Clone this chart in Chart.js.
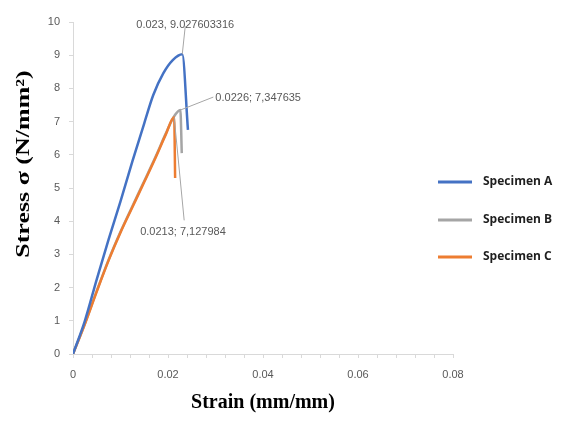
<!DOCTYPE html>
<html>
<head>
<meta charset="utf-8">
<script src="https://cdn.jsdelivr.net/npm/chart.js@4.4.1/dist/chart.umd.min.js"></script>
<style>
  html, body { margin: 0; padding: 0; background: #ffffff; }
  #wrap { width: 563px; height: 421px; position: relative; }
</style>
</head>
<body>
<div id="wrap"><canvas id="c"></canvas></div>
<script>
// ---- data ----
const seriesNames = ['Specimen A', 'Specimen B', 'Specimen C'];
const strainA = [0, 0.0025, 0.005, 0.0075, 0.01, 0.0125, 0.015, 0.0169, 0.019, 0.021, 0.023, 0.0242];
const stressA = [0, 1.0, 2.25, 3.45, 4.6, 5.8, 6.95, 7.8, 8.45, 8.85, 9.027603316, 6.75];
const strainB = [0, 0.0025, 0.005, 0.0075, 0.01, 0.0125, 0.015, 0.0175, 0.0195, 0.0213, 0.0226, 0.0229];
const stressB = [0, 0.91, 1.9, 2.84, 3.68, 4.45, 5.21, 5.98, 6.63, 7.16, 7.347635, 6.05];
const strainC = [0, 0.0025, 0.005, 0.0075, 0.01, 0.0125, 0.015, 0.0175, 0.0195, 0.0213, 0.0215];
const stressC = [0, 0.9, 1.88, 2.82, 3.66, 4.42, 5.18, 5.95, 6.6, 7.127984, 5.3];
const peakStrain = [0.023, 0.0226, 0.0213];
const peakStress = [9.027603316, 7.347635, 7.127984];
const peakLabels = ['0.023, 9.027603316', '0.0226; 7,347635', '0.0213; 7,127984'];
const xTickLabels = ['0', '0.02', '0.04', '0.06', '0.08'];
const yTickLabels = ['0', '1', '2', '3', '4', '5', '6', '7', '8', '9', '10'];
const xTitle = 'Strain (mm/mm)';
const yTitle = 'Stress \u03c3 (N/mm\u00b2)';

// ---- styling ----
const colors = ['#4472C4', '#A5A5A5', '#ED7D31'];
const axisColor = '#d9d9d9';
const tickColor = '#595959';

function pts(xs, ys) { return xs.map((x, i) => ({ x: x, y: ys[i] })); }

const annotationStyle = [
  { dx: 3, dy: -28, align: 'center', lxOff: 3, ly: -29 },
  { dx: 33, dy: -13, align: 'left', lxOff: 35, ly: -12 },
  { dx: 10, dy: 103, align: 'left', lxOff: -34, ly: 115 }
];

const annotationPlugin = {
  id: 'peakLabels',
  afterDatasetsDraw(chart) {
    const { ctx, scales: { x, y } } = chart;
    ctx.save();
    ctx.font = '11px "Liberation Sans", Arial, sans-serif';
    ctx.textBaseline = 'middle';
    peakLabels.forEach((txt, i) => {
      const st = annotationStyle[i];
      const px = x.getPixelForValue(peakStrain[i]);
      const py = y.getPixelForValue(peakStress[i]);
      ctx.strokeStyle = '#a6a6a6';
      ctx.lineWidth = 1;
      ctx.beginPath();
      ctx.moveTo(px, py);
      ctx.lineTo(px + st.dx, py + st.dy);
      ctx.stroke();
      ctx.fillStyle = tickColor;
      ctx.textAlign = st.align;
      ctx.fillText(txt, px + st.lxOff, py + st.ly);
    });
    ctx.restore();
  }
};

const legendPlugin = {
  id: 'sideLegend',
  afterDraw(chart) {
    const { ctx } = chart;
    const ys = [182, 220, 257];
    ctx.save();
    chart.data.datasets.forEach((ds, i) => {
      ctx.strokeStyle = ds.borderColor;
      ctx.lineWidth = 3;
      ctx.beginPath();
      ctx.moveTo(438, ys[i]);
      ctx.lineTo(472, ys[i]);
      ctx.stroke();
      ctx.fillStyle = '#1f1f1f';
      ctx.font = 'bold 12px "Open Sans", "Liberation Sans", sans-serif';
      ctx.textAlign = 'left';
      ctx.textBaseline = 'middle';
      ctx.fillText(ds.label, 483, ys[i]);
    });
    ctx.restore();
  }
};

const yTitlePlugin = {
  id: 'yTitle',
  afterDraw(chart) {
    const { ctx } = chart;
    ctx.save();
    ctx.translate(24, 164);
    ctx.rotate(-Math.PI / 2);
    ctx.scale(1, 0.75);
    ctx.font = 'bold 26px "Liberation Serif", "Times New Roman", serif';
    ctx.fillStyle = '#000000';
    ctx.textAlign = 'center';
    ctx.textBaseline = 'middle';
    ctx.fillText(yTitle, 0, 0);
    ctx.restore();
  }
};

new Chart(document.getElementById('c'), {
  type: 'scatter',
  data: {
    datasets: [
      { label: seriesNames[0], data: pts(strainA, stressA), borderColor: colors[0], backgroundColor: colors[0], showLine: true, pointRadius: 0, borderWidth: 2.5, order: 0 },
      { label: seriesNames[1], data: pts(strainB, stressB), borderColor: colors[1], backgroundColor: colors[1], showLine: true, pointRadius: 0, borderWidth: 2.5, order: 2 },
      { label: seriesNames[2], data: pts(strainC, stressC), borderColor: colors[2], backgroundColor: colors[2], showLine: true, pointRadius: 0, borderWidth: 2.5, order: 1 }
    ]
  },
  options: {
    responsive: true,
    maintainAspectRatio: false,
    animation: false,
    devicePixelRatio: 1,
    layout: { padding: { left: 0, right: 110, top: 22, bottom: 0 } },
    plugins: { legend: { display: false }, tooltip: { enabled: false } },
    elements: { line: { cubicInterpolationMode: 'monotone' } },
    scales: {
      x: {
        type: 'linear',
        min: 0, max: 0.08,
        afterFit(s) { s.height = 67; },
        afterBuildTicks(s) {
          const t = [];
          for (let i = 0; i <= 20; i++) t.push({ value: i * 0.004 });
          s.ticks = t;
        },
        ticks: {
          autoSkip: false, maxRotation: 0, padding: 10,
          color: tickColor,
          font: { family: '"Liberation Sans", Arial, sans-serif', size: 11 },
          callback(v, idx) { return idx % 5 === 0 ? xTickLabels[idx / 5] : ''; }
        },
        grid: { drawOnChartArea: false, color: axisColor, tickLength: 4 },
        border: { color: axisColor, width: 1 },
        title: {
          display: true, text: xTitle, color: '#000000',
          font: { family: '"Liberation Serif", "Times New Roman", serif', size: 20, weight: 'bold' },
          padding: { top: 0, bottom: 6 }
        }
      },
      y: {
        type: 'linear',
        min: 0, max: 10,
        afterFit(s) { s.width = 73; },
        ticks: {
          stepSize: 1, padding: 9,
          color: tickColor,
          font: { family: '"Liberation Sans", Arial, sans-serif', size: 11 },
          callback(v) { return yTickLabels[Math.round(v)]; }
        },
        grid: { drawOnChartArea: false, color: axisColor, tickLength: 4 },
        border: { color: axisColor, width: 1 }
      }
    }
  },
  plugins: [annotationPlugin, legendPlugin, yTitlePlugin]
});
</script>
</body>
</html>
